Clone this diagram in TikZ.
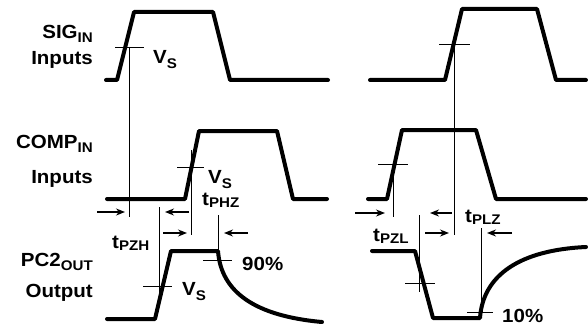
\documentclass[tikz,border=0pt]{standalone}
\usepackage{fontspec}
\setmainfont{Liberation Sans}
\usetikzlibrary{arrows.meta}
\newcommand\st[1]{\scalebox{1.08}[1]{#1}}
\newcommand\sbs[2][3pt]{\raisebox{-#1}{\fontsize{14}{14}\selectfont #2}}
\begin{document}
\begin{tikzpicture}[x=1pt,y=-1pt,
  wave/.style={line width=4pt, line join=round, line cap=round},
  thinl/.style={line width=0.9pt},
  dim/.style={line width=1.4pt, -{Stealth[length=9pt,width=7pt]}},
  lab/.style={font=\bfseries\fontsize{19}{19}\selectfont, inner sep=0pt},
]
\useasboundingbox (0,0) rectangle (588,326);
% waveforms
\draw[wave] (106,80) -- (117,80) -- (134,12) -- (213,12) -- (230,80) -- (328,80);
\draw[wave] (370,80) -- (445,80) -- (462,9) -- (537,9) -- (556,80) -- (586,80);
\draw[wave] (107,199) -- (185,199) -- (199,131) -- (277,131) -- (293,199) -- (327,199);
\draw[wave] (368,199) -- (387,199) -- (402,130) -- (476,130) -- (496,199) -- (586,199);
\draw[wave] (107,319) -- (155,319) -- (171,251) -- (218,251) .. controls (221,292) and (255,316) .. (322,322);
\draw[wave] (372,251) -- (415,251) -- (433,318) -- (480,318) .. controls (483,275) and (520,250) .. (586,247);
% ticks and reference lines
\draw[thinl] (115,47) -- (144,47);  \draw[thinl] (129,47) -- (129,217);
\draw[thinl] (439,44) -- (470,44);  \draw[thinl] (454,44) -- (454,235);
\draw[thinl] (177,167) -- (204,167); \draw[thinl] (191,150) -- (191,235);
\draw[thinl] (378,164) -- (408,164); \draw[thinl] (393,164) -- (393,217);
\draw[thinl] (143,286) -- (172,286); \draw[thinl] (159,207) -- (159,292);
\draw[thinl] (405,283) -- (435,283); \draw[thinl] (419,215) -- (419,292);
\draw[thinl] (203,260) -- (232,260); \draw[thinl] (218,215) -- (218,260);
\draw[thinl] (467,312) -- (493,312); \draw[thinl] (481,228) -- (481,312);
% dimension arrows
\draw[dim] (97,212) -- (125,212);
\draw[dim] (189,212) -- (165,212);
\draw[dim] (163,233) -- (187,233);
\draw[dim] (248,233) -- (224,233);
\draw[dim] (355,213) -- (385,213);
\draw[dim] (452,213) -- (430,213);
\draw[dim] (425,233) -- (449,233);
\draw[dim] (512,233) -- (487,233);
% row labels
\node[lab, anchor=base east] (sig) at (93,39) {\st{SIG\sbs[4pt]{IN}}};
\node[lab, anchor=base east] (sigi) at (93,65) {\st{Inputs}};
\node[lab, anchor=base east] (comp) at (93,148) {\st{COMP\sbs[4pt]{IN}}};
\node[lab, anchor=base east] (compi) at (93,183) {\st{Inputs}};
\node[lab, anchor=base east] (pc2) at (93,266) {\st{PC2\sbs[4pt]{OUT}}};
\node[lab, anchor=base east] (pc2o) at (93,297) {\st{Output}};
% V_S labels
\node[lab, anchor=base west] (vs1) at (153,64) {\st{V\sbs[5pt]{S}}};
\node[lab, anchor=base west] (vs2) at (208,183) {\st{V\sbs[5pt]{S}}};
\node[lab, anchor=base west] (vs3) at (182,295) {\st{V\sbs[5pt]{S}}};
% timing labels
\node[lab, anchor=base west] (tphz) at (202,205) {\st{t\sbs[2pt]{PHZ}}};
\node[lab, anchor=base west] (tpzh) at (112,248) {\st{t\sbs[2pt]{PZH}}};
\node[lab, anchor=base west] (tpzl) at (373,241) {\st{t\sbs[2pt]{PZL}}};
\node[lab, anchor=base west] (tplz) at (465,222) {\st{t\sbs[2pt]{PLZ}}};
\node[lab, anchor=base west] (p90) at (242,270) {\st{90\%}};
\node[lab, anchor=base west] (p10) at (502,322) {\st{10\%}};
\end{tikzpicture}
\end{document}
